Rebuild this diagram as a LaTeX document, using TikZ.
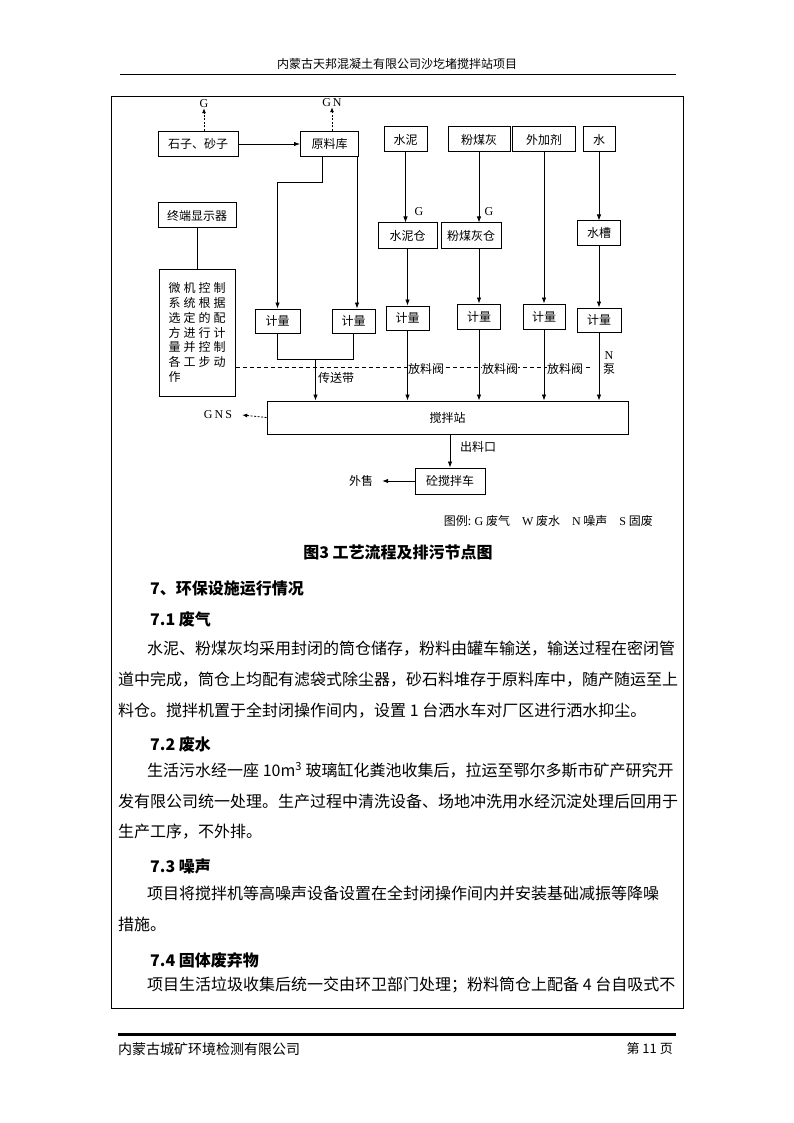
\documentclass[tikz,border=0pt]{standalone}
\usepackage{fontspec}
\setmainfont{Liberation Serif}
\newfontfamily\cjk{Noto Sans CJK SC}
\newfontfamily\cjkwide[LetterSpace=25]{Noto Sans CJK SC}
\usetikzlibrary{arrows.meta, calc}

\newcommand{\dfont}{\cjk\fontsize{12}{14}\selectfont}
\newcommand{\bodyfont}{\cjk\fontsize{16}{20}\selectfont}
\newcommand{\headfont}{\cjk\bfseries\fontsize{16}{20}\selectfont}

\begin{document}
\begin{tikzpicture}[x=1pt, y=-1pt,
    box/.style={draw, line width=1pt, minimum height=25pt, inner sep=1pt, font=\dfont},
    arr/.style={-{Latex[length=6pt,width=4.5pt]}, line width=0.8pt},
    garr/.style={-{Latex[length=5pt,width=4pt]}, line width=0.8pt, dash pattern=on 2pt off 1.5pt},
    lbl/.style={inner sep=1pt, font=\dfont},
    glbl/.style={inner sep=0pt, font=\fontsize{12}{14}\selectfont},
    para/.style={anchor=west, inner sep=0pt, font=\bodyfont},
    head/.style={anchor=west, inner sep=0pt, font=\headfont}
  ]
  \useasboundingbox[fill=white] (0,0) rectangle (794,1123);

  % page head and frame
  \node[font=\dfont] (hdr) at (397,64) {内蒙古天邦混凝土有限公司沙圪堵搅拌站项目};
  \draw[line width=0.8pt] (120,74) -- (676,74);
  \draw[line width=0.8pt] (111,96) rectangle (683,1008);

  % raw materials
  \node[box, minimum width=80pt]  (stone)    at (198,144)   {石子、砂子};
  \node[box, minimum width=58pt]  (yuanliao) at (329.5,144) {原料库};
  \node[box, minimum width=78pt]  (display)  at (197,215.5) {终端显示器};
  \node[box, minimum width=76pt, minimum height=127pt, align=left,
        font=\cjkwide\fontsize{12}{14.7}\selectfont] (micro) at (197,332.5)
        {微机控制\\系统根据\\选定的配\\方进行计\\量并控制\\各工步动\\作};
  \node[box, minimum width=43pt]  (cement)   at (405.5,139.5) {水泥};
  \node[box, minimum width=62pt]  (flyash)   at (479,139.5)   {粉煤灰};
  \node[box, minimum width=63pt]  (additive) at (544,139.5)   {外加剂};
  \node[box, minimum width=32pt]  (water)    at (599,139.5)   {水};
  \node[box, minimum width=59pt]  (cementbin) at (407.5,235.5) {水泥仓};
  \node[box, minimum width=60pt]  (ashbin)   at (471,235.5)   {粉煤灰仓};
  \node[box, minimum width=43pt, minimum height=24pt] (tank) at (599,233) {水槽};

  % metering
  \node[box, minimum width=45pt, minimum height=24pt] (jl1) at (277.5,321) {计量};
  \node[box, minimum width=43pt, minimum height=24pt] (jl2) at (353.5,321) {计量};
  \node[box, minimum width=43pt, minimum height=24pt] (jl3) at (407.5,318) {计量};
  \node[box, minimum width=43pt, minimum height=25pt] (jl4) at (479,316.5) {计量};
  \node[box, minimum width=42pt, minimum height=25pt] (jl5) at (544,316.5) {计量};
  \node[box, minimum width=44pt, minimum height=24pt] (jl6) at (599,320) {计量};

  \node[box, minimum width=361pt, minimum height=33pt] (mixer) at (447.5,417.5) {搅拌站};
  \node[box, minimum width=70pt, minimum height=26pt]  (truck) at (450,481) {砼搅拌车};

  % dashed line and labels
  \coordinate (dashend) at (591,367);
  \draw[line width=0.7pt, dash pattern=on 4pt off 3pt] (micro.east |- dashend) -- (dashend);
  \node[lbl, fill=white, inner sep=0pt] (v1) at (426,369) {放料阀};
  \node[lbl, fill=white, inner sep=0pt] (v2) at (500,369) {放料阀};
  \node[lbl, fill=white, inner sep=0pt] (v3) at (565,369) {放料阀};
  \node[lbl, align=center] (pump) at (609,363) {{\rmfamily N}\\泵};
  \node[lbl] (beltlbl) at (336,378) {传送带};
  \node[lbl] (outlet) at (478,447) {出料口};
  \node[lbl] (sale) at (361,481) {外售};
  \node[glbl] (gst) at (204,104) {G};
  \node[glbl] (gyl) at (332,103) {G\,N};
  \node[glbl] (gcb) at (419,212) {G};
  \node[glbl] (gab) at (489,212) {G};
  \node[glbl] (gns) at (218,415) {G\,N\,S};

  % connectors
  \draw[arr] (stone) -- (yuanliao);
  \draw[garr] ([xshift=6pt]stone.north) -- ([xshift=6pt]stone.north |- gst.south);
  \draw[garr] ([xshift=2.5pt]yuanliao.north) -- ([xshift=2.5pt]yuanliao.north |- gyl.south);
  \draw[arr] ([xshift=-7pt]yuanliao.south) -- ++(0,25) -| (jl1.north);
  \draw[arr] ([xshift=-2pt]yuanliao.south east) -- ([xshift=-2pt]yuanliao.south east |- jl2.north);
  \draw[line width=0.8pt] (display) -- (micro);
  \coordinate (belt) at ($(jl1.south)!0.5!(jl2.south)+(0,26)$);
  \draw[line width=0.8pt] (jl1.south) |- (belt) -| (jl2.south);
  \draw[arr] (belt) -- (belt |- mixer.north);
  \draw[arr] (cement) -- (cement.south |- cementbin.north);
  \draw[arr] (flyash) -- (flyash.south |- ashbin.north);
  \draw[arr] (water) -- (tank);
  \draw[arr] (cementbin) -- (jl3);
  \draw[arr] (flyash.south |- ashbin.south) -- (jl4);
  \draw[arr] (additive) -- (jl5);
  \draw[arr] (tank) -- (jl6);
  \draw[arr] (jl3) -- (jl3.south |- mixer.north);
  \draw[arr] (jl4) -- (jl4.south |- mixer.north);
  \draw[arr] (jl5) -- (jl5.south |- mixer.north);
  \draw[arr] (jl6) -- (jl6.south |- mixer.north);
  \draw[garr] (mixer.west) -- ([xshift=10pt]gns.east);
  \draw[arr] (mixer.south -| truck.north) -- (truck.north);
  \draw[arr] (truck) -- ([xshift=8pt]sale.east);

  \node[lbl, anchor=east] (legend) at (654,521) {图例: {\rmfamily G} 废气\quad {\rmfamily W} 废水\quad {\rmfamily N} 噪声\quad {\rmfamily S} 固废};
  \node[font=\cjk\bfseries\fontsize{16}{18}\selectfont] (caption) at (398,552) {图3\ 工艺流程及排污节点图};

  % text
  \node[head] (h7)  at (150,588) {7、环保设施运行情况};
  \node[head] (h71) at (150,619) {7.1 废气};
  \node[para] (p11) at (147,649) {水泥、粉煤灰均采用封闭的筒仓储存，粉料由罐车输送，输送过程在密闭管};
  \node[para] (p12) at (118,680) {道中完成，筒仓上均配有滤袋式除尘器，砂石料堆存于原料库中，随产随运至上};
  \node[para] (p13) at (118,711) {料仓。搅拌机置于全封闭操作间内，设置 1 台洒水车对厂区进行洒水抑尘。};
  \node[head] (h72) at (150,744) {7.2 废水};
  \node[para] (p21) at (147,770) {生活污水经一座 10m\textsuperscript{3} 玻璃缸化粪池收集后，拉运至鄂尔多斯市矿产研究开};
  \node[para] (p22) at (118,801) {发有限公司统一处理。生产过程中清洗设备、场地冲洗用水经沉淀处理后回用于};
  \node[para] (p23) at (118,832) {生产工序，不外排。};
  \node[head] (h73) at (150,866) {7.3 噪声};
  \node[para] (p31) at (147,893) {项目将搅拌机等高噪声设备设置在全封闭操作间内并安装基础减振等降噪};
  \node[para] (p32) at (118,924) {措施。};
  \node[head] (h74) at (150,960) {7.4 固体废弃物};
  \node[para] (p41) at (147,985) {项目生活垃圾收集后统一交由环卫部门处理；粉料筒仓上配备 4 台自吸式不};

  % page foot
  \draw[line width=3pt] (118,1034) -- (676,1034);
  \node[anchor=west, inner sep=0pt, font=\cjk\fontsize{14}{16}\selectfont] (ftl) at (118,1049) {内蒙古城矿环境检测有限公司};
  \node[anchor=east, inner sep=0pt, font=\cjk\fontsize{13}{16}\selectfont] (ftr) at (673,1049) {第 11 页};
\end{tikzpicture}
\end{document}
